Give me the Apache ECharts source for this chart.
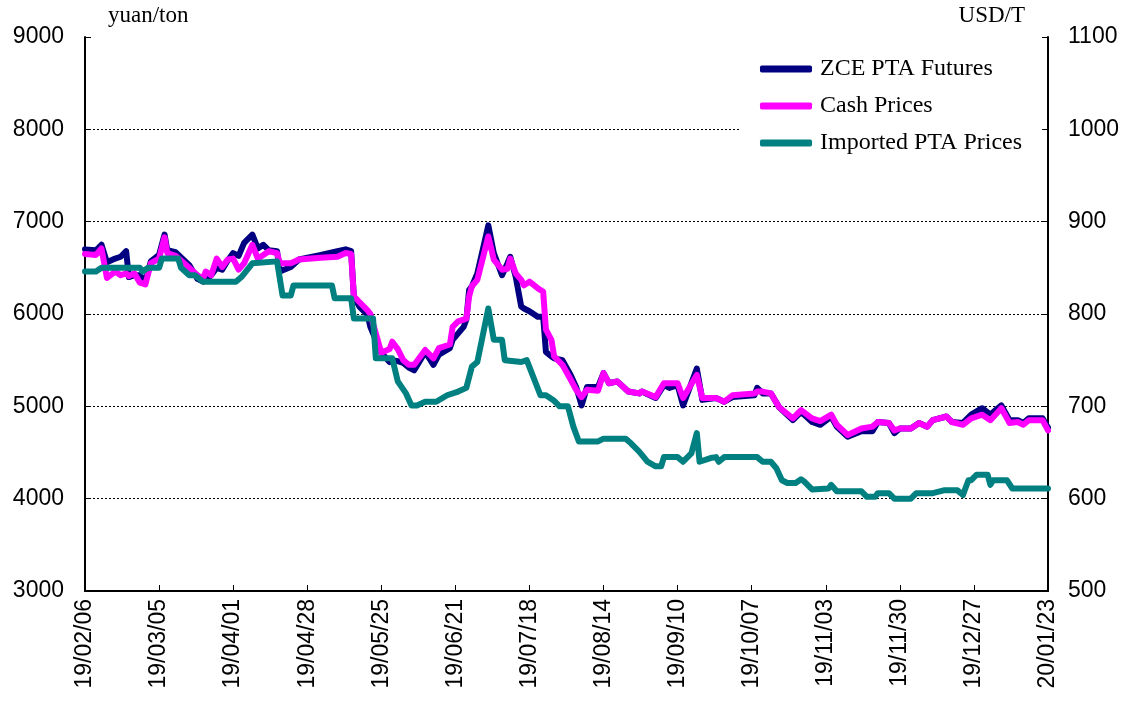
<!DOCTYPE html>
<html>
<head>
<meta charset="utf-8">
<script src="https://cdn.jsdelivr.net/npm/echarts@6/dist/echarts.min.js"></script>
<style>
  html, body { margin: 0; padding: 0; background: #fff; }
  #main { width: 1134px; height: 704px; }
</style>
</head>
<body>
<div id="main"></div>
<script>
// 期货 / 现货 取样日期 (yuan/ton)
let priceDates = ['19/02/06','19/02/10','19/02/12','19/02/14','19/02/17','19/02/19','19/02/21','19/02/22','19/02/24','19/02/26','19/02/28',
    '19/03/02','19/03/05','19/03/07','19/03/08','19/03/11','19/03/16','19/03/19','19/03/21','19/03/22','19/03/24','19/03/26','19/03/28','19/03/30',
    '19/04/01','19/04/03','19/04/05','19/04/08','19/04/10','19/04/12','19/04/14','19/04/17','19/04/18','19/04/22','19/04/25',
    '19/05/03','19/05/09','19/05/12','19/05/14','19/05/15','19/05/17','19/05/20','19/05/21','19/05/25','19/05/28','19/05/29','19/05/31',
    '19/06/02','19/06/04','19/06/06','19/06/10','19/06/13','19/06/15','19/06/19','19/06/20','19/06/22','19/06/24','19/06/25','19/06/26','19/06/27','19/06/29',
    '19/07/03','19/07/05','19/07/08','19/07/10','19/07/11','19/07/13','19/07/15','19/07/16','19/07/18','19/07/21','19/07/23','19/07/24','19/07/26','19/07/27','19/07/30',
    '19/08/02','19/08/04','19/08/06','19/08/08','19/08/12','19/08/14','19/08/16','19/08/19','19/08/23','19/08/27','19/08/28',
    '19/09/02','19/09/05','19/09/07','19/09/10','19/09/12','19/09/17','19/09/19','19/09/24','19/09/27','19/09/30',
    '19/10/08','19/10/09','19/10/11','19/10/14','19/10/17','19/10/22','19/10/25','19/10/29',
    '19/11/01','19/11/05','19/11/07','19/11/11','19/11/16','19/11/20','19/11/22','19/11/26','19/11/28','19/11/30',
    '19/12/04','19/12/07','19/12/10','19/12/12','19/12/17','19/12/19','19/12/23','19/12/26','19/12/30',
    '20/01/02','20/01/06','20/01/09','20/01/12','20/01/14','20/01/16','20/01/21','20/01/23'];

let futures = [6700,6690,6750,6560,6600,6620,6680,6400,6420,6420,6350,
    6570,6640,6860,6690,6670,6530,6380,6350,6370,6420,6500,6480,6580,
    6660,6630,6770,6860,6710,6750,6690,6680,6460,6510,6590,
    6640,6680,6700,6680,6190,6080,5990,5860,5580,5480,5500,5490,
    5470,5420,5390,5590,5450,5560,5630,5720,5790,5860,5940,6260,6300,6440,
    6960,6660,6420,6550,6620,6400,6080,6060,6030,5970,5970,5590,5540,5520,5500,
    5340,5210,5010,5210,5210,5360,5250,5270,5160,5140,5160,
    5090,5230,5200,5230,5010,5410,5070,5090,5050,5100,
    5120,5200,5140,5140,4990,4850,4940,4830,
    4800,4890,4780,4670,4730,4730,4830,4820,4710,4760,
    4760,4820,4780,4850,4890,4830,4820,4910,4980,
    4910,5010,4850,4850,4820,4870,4870,4770];

let cash = [6650,6640,6710,6390,6460,6420,6440,6410,6440,6340,6320,
    6550,6600,6830,6660,6630,6500,6420,6380,6460,6420,6600,6510,6590,
    6600,6480,6550,6750,6600,6640,6680,6660,6550,6550,6590,
    6610,6620,6660,6650,6190,6130,6040,6000,5580,5620,5700,5620,
    5500,5450,5450,5610,5520,5630,5670,5860,5920,5940,5950,6190,6300,6370,
    6840,6590,6480,6490,6600,6440,6370,6310,6350,6280,6240,5830,5720,5540,5450,
    5290,5180,5100,5180,5170,5360,5250,5270,5160,5140,5160,
    5100,5250,5250,5250,5090,5340,5090,5090,5050,5120,
    5140,5160,5160,5140,4990,4870,4960,4870,
    4840,4910,4800,4690,4760,4780,4830,4820,4740,4760,
    4760,4820,4780,4850,4890,4830,4800,4870,4910,
    4850,4980,4820,4830,4800,4850,4850,4740];

// 进口价格 (USD/T)
let importDates = ['19/02/06','19/02/10','19/02/12','19/02/26','19/02/27','19/03/01','19/03/05','19/03/06','19/03/12','19/03/13','19/03/16','19/03/18','19/03/21',
    '19/04/02','19/04/04','19/04/07','19/04/08','19/04/17','19/04/19','19/04/22','19/04/23',
    '19/05/07','19/05/08','19/05/14','19/05/15','19/05/22','19/05/23','19/05/29','19/05/31',
    '19/06/03','19/06/05','19/06/07','19/06/10','19/06/14','19/06/18','19/06/22','19/06/25','19/06/27','19/06/29',
    '19/07/03','19/07/05','19/07/08','19/07/09','19/07/15','19/07/17','19/07/22','19/07/24','19/07/27','19/07/29',
    '19/08/01','19/08/03','19/08/05','19/08/12','19/08/14','19/08/22','19/08/24','19/08/27','19/08/30',
    '19/09/02','19/09/04','19/09/05','19/09/10','19/09/12','19/09/15','19/09/17','19/09/18','19/09/22','19/09/24','19/09/25','19/09/27',
    '19/10/09','19/10/11','19/10/14','19/10/16','19/10/18','19/10/20','19/10/23','19/10/25','19/10/26','19/10/29',
    '19/11/04','19/11/05','19/11/07','19/11/16','19/11/18','19/11/21','19/11/22','19/11/26','19/11/28',
    '19/12/04','19/12/06','19/12/12','19/12/16','19/12/21','19/12/23','19/12/25','19/12/26','19/12/28',
    '20/01/01','20/01/02','20/01/03','20/01/08','20/01/10','20/01/23'];

let imported = [846,846,850,850,846,850,850,860,860,850,842,842,835,
    835,840,851,855,857,820,820,831,
    831,817,817,795,795,752,752,727,
    714,701,701,705,705,712,716,720,743,748,
    806,772,772,750,748,750,712,712,706,700,
    700,678,662,662,665,665,660,651,640,
    635,635,645,645,640,649,671,640,644,645,640,645,
    645,640,640,633,620,617,617,621,619,610,
    611,615,608,608,602,602,606,606,600,
    600,606,606,609,609,604,620,620,626,
    626,615,620,620,611,611];

let seriesNames = ['ZCE PTA Futures', 'Cash Prices', 'Imported PTA Prices'];
let seriesColors = ['#000080', '#ff00ff', '#008080'];

// 生成逐日日期类目
function buildDays(start, end) {
    let days = [], d = new Date(start), e = new Date(end);
    while (d <= e) {
        let y = String(d.getUTCFullYear()).slice(2),
            m = String(d.getUTCMonth() + 1).padStart(2, '0'),
            dd = String(d.getUTCDate()).padStart(2, '0');
        days.push(`${y}/${m}/${dd}`);
        d.setUTCDate(d.getUTCDate() + 1);
    }
    return days;
}

let days = buildDays('2019-02-06T00:00:00Z', '2020-01-23T00:00:00Z');
let pair = (xs, ys) => xs.map((x, i) => [x, ys[i]]);

let sansFont = 'Liberation Sans, Arial, sans-serif',
    serifFont = 'Liberation Serif, Times New Roman, serif';

let myChart = echarts.init(document.getElementById('main'));

let lineSeries = (name, data, color, yIndex) => ({
    name: name,
    type: 'line',
    yAxisIndex: yIndex,
    data: data,
    symbol: 'none',
    animation: false,
    lineStyle: { color: color, width: 6, cap: 'round', join: 'round' },
    itemStyle: { color: color }
});

myChart.setOption({
    backgroundColor: '#fff',
    animation: false,
    grid: { left: 85, right: 86, top: 37, bottom: 113 },
    legend: {
        orient: 'vertical',
        left: 740,
        top: 52,
        padding: [5, 20, 5, 20],
        backgroundColor: '#fff',
        itemWidth: 52,
        itemHeight: 7,
        itemGap: 13,
        icon: 'roundRect',
        data: seriesNames,
        textStyle: { fontFamily: serifFont, fontSize: 24, color: '#000', padding: [0, 0, 0, 3] }
    },
    xAxis: {
        type: 'category',
        data: days,
        boundaryGap: false,
        axisLine: { lineStyle: { color: '#000', width: 2 } },
        axisTick: { inside: true, length: 6, interval: 26, lineStyle: { color: '#000' } },
        axisLabel: { interval: 26, rotate: 90, margin: 8, fontFamily: sansFont, fontSize: 23, color: '#000' },
        splitLine: { show: false }
    },
    yAxis: [
        {
            type: 'value',
            min: 3000, max: 9000, interval: 1000,
            name: 'yuan/ton',
            nameGap: 10,
            nameTextStyle: { fontFamily: serifFont, fontSize: 23, color: '#000', align: 'left', verticalAlign: 'bottom', padding: [0, 0, 0, 23] },
            axisLine: { show: true, lineStyle: { color: '#000', width: 2 } },
            axisTick: { show: true, inside: true, length: 6, lineStyle: { color: '#000' } },
            axisLabel: { fontFamily: sansFont, fontSize: 23, color: '#000', margin: 21, formatter: v => String(v) },
            splitLine: { show: true, showMinLine: false, showMaxLine: false, lineStyle: { color: '#000', type: [2, 2], width: 1 } }
        },
        {
            type: 'value',
            min: 500, max: 1100, interval: 100,
            name: 'USD/T',
            nameGap: 10,
            nameTextStyle: { fontFamily: serifFont, fontSize: 23, color: '#000', align: 'right', verticalAlign: 'bottom', padding: [0, 23, 0, 0] },
            axisLine: { show: true, lineStyle: { color: '#000', width: 2 } },
            axisTick: { show: true, inside: true, length: 6, lineStyle: { color: '#000' } },
            axisLabel: { fontFamily: sansFont, fontSize: 23, color: '#000', margin: 20, formatter: v => String(v) },
            splitLine: { show: false }
        }
    ],
    series: [
        lineSeries(seriesNames[0], pair(priceDates, futures), seriesColors[0], 0),
        lineSeries(seriesNames[1], pair(priceDates, cash), seriesColors[1], 0),
        lineSeries(seriesNames[2], pair(importDates, imported), seriesColors[2], 1)
    ]
});

window.addEventListener('resize', () => { myChart.resize() });
</script>
</body>
</html>
